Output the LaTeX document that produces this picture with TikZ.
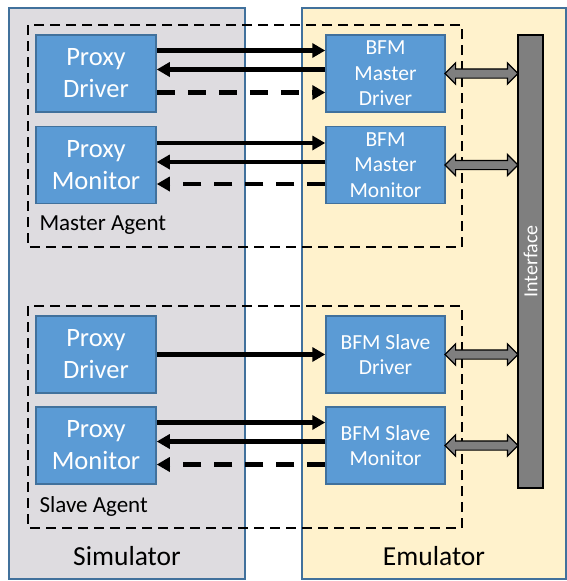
\documentclass[tikz,border=0pt]{standalone}
\usepackage{fontspec}
\setmainfont{Carlito}
\usepackage{tikz}
\usetikzlibrary{arrows.meta,shapes.arrows}
\definecolor{boxblue}{HTML}{5B9BD5}
\definecolor{boxedge}{HTML}{41719C}
\definecolor{simgray}{HTML}{DEDCE0}
\definecolor{emuyellow}{HTML}{FFF2CC}
\definecolor{bargray}{HTML}{7F7F7F}

\begin{document}
\begin{tikzpicture}[x=1pt,y=-1pt,
  proxy/.style={draw=boxedge, line width=1.5pt, fill=boxblue, text=white,
    minimum width=120pt, minimum height=77pt, align=center, inner sep=0pt,
    font=\fontsize{26.5}{32}\selectfont},
  bfm/.style={proxy, minimum width=119pt, font=\fontsize{21.5}{25.5}\selectfont},
  sig/.style={line width=4.5pt, -{Triangle[length=13pt,width=14pt]}},
  sigdash/.style={sig, dash pattern=on 18pt off 13pt},
  agent/.style={line width=1.5pt, dash pattern=on 10pt off 6pt},
  dblarr/.style={double arrow, draw=black, line width=1.2pt, fill=bargray,
    inner xsep=0pt, inner ysep=4pt, minimum height=73pt,
    double arrow head extend=6pt},
  lbl/.style={font=\fontsize{23}{27}\selectfont}]
\useasboundingbox (0,0) rectangle (567,581);
% panels
\draw[fill=simgray, draw=boxedge, line width=1.5pt] (9,8) rectangle (245,579);
\draw[fill=emuyellow, draw=boxedge, line width=1.5pt] (302,8) rectangle (566,579);
\node[font=\fontsize{27.5}{30}\selectfont] (sim) at (127,556) {Simulator};
\node[font=\fontsize{27.5}{30}\selectfont] (emu) at (434,556) {Emulator};
% agents
\draw[agent] (28,25) rectangle (462,247);
\draw[agent] (28,306) rectangle (462,528);
\node[lbl, anchor=west] (mlbl) at (36,225) {Master Agent};
\node[lbl, anchor=west] (slbl) at (36,506) {Slave Agent};
% boxes
\node[proxy] (pmd) at (96,73.5) {Proxy\\Driver};
\node[proxy] (pmm) at (96,165) {Proxy\\Monitor};
\node[proxy] (psd) at (96,354.5) {Proxy\\Driver};
\node[proxy] (psm) at (96,445.5) {Proxy\\Monitor};
\node[bfm] (bmd) at (385.5,73.5) {BFM\\Master\\Driver};
\node[bfm] (bmm) at (385.5,165) {BFM\\Master\\Monitor};
\node[bfm] (bsd) at (385.5,354.5) {BFM Slave\\Driver};
\node[bfm] (bsm) at (385.5,445.5) {BFM Slave\\Monitor};
% interface
\node[draw=black, line width=1.5pt, fill=bargray, minimum width=25pt,
  minimum height=453pt] (bar) at (530.5,261.5) {};
\node[rotate=90, text=white, font=\fontsize{20}{24}\selectfont] (ilbl) at (bar.center) {Interface};
% master
\draw[sig] ([yshift=23pt]pmd.east) -- ([yshift=23pt]bmd.west);
\draw[sig] ([yshift=4pt]bmd.west) -- ([yshift=4pt]pmd.east);
\draw[sigdash] ([yshift=-19pt]pmd.east) -- ([yshift=-19pt]bmd.west);
\draw[sig] ([yshift=22pt]pmm.east) -- ([yshift=22pt]bmm.west);
\draw[sig] ([yshift=3pt]bmm.west) -- ([yshift=3pt]pmm.east);
\draw[sigdash] ([yshift=-19pt]bmm.west) -- ([yshift=-19pt]pmm.east);
% slave
\draw[sig] (psd.east) -- (bsd.west);
\draw[sig] ([yshift=23pt]psm.east) -- ([yshift=23pt]bsm.west);
\draw[sig] ([yshift=4pt]bsm.west) -- ([yshift=4pt]psm.east);
\draw[sigdash] ([yshift=-19pt]bsm.west) -- ([yshift=-19pt]psm.east);
% to interface
\path (bmd.east) -- (bmd.east -| bar.west) node[midway, dblarr] {};
\path (bmm.east) -- (bmm.east -| bar.west) node[midway, dblarr] {};
\path (bsd.east) -- (bsd.east -| bar.west) node[midway, dblarr] {};
\path (bsm.east) -- (bsm.east -| bar.west) node[midway, dblarr] {};
\end{tikzpicture}
\end{document}
